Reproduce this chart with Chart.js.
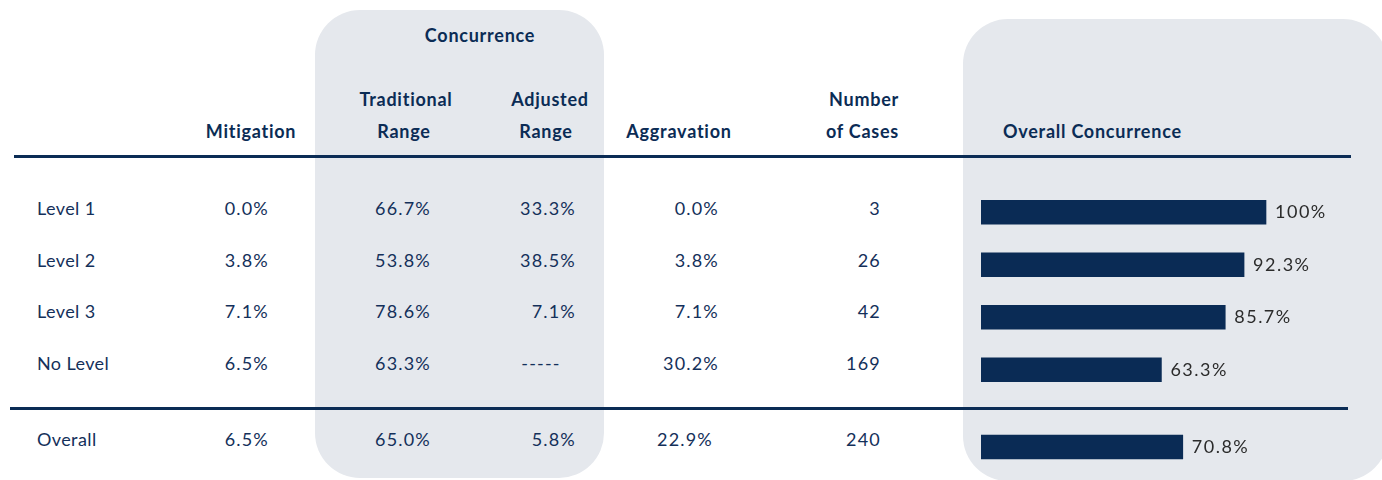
<!DOCTYPE html>
<html>
<head>
<meta charset="utf-8">
<script src="https://cdn.jsdelivr.net/npm/chart.js@4"></script>
<style>
  html, body { margin: 0; padding: 0; background: #fff; }
  #stage { position: relative; width: 1382px; height: 480px; overflow: hidden; font-family: Lato, sans-serif; color: #14305a; }
  .panel { position: absolute; background: #e5e8ed; border-radius: 45px; }
  .rule { position: absolute; height: 3px; background: #0b2c55; }
  .t { position: absolute; white-space: nowrap; line-height: 1; }
  .hd { font-weight: 700; font-size: 18px; letter-spacing: 0.75px; color: #0b2c55; }
  .bd { font-size: 18px; letter-spacing: 0.4px; }
  .num { font-size: 18px; letter-spacing: 1.2px; }
  .box { position: absolute; }
</style>
</head>
<body>
<div id="stage">
  <div class="panel" style="left:315px;top:10px;width:289px;height:468px;"></div>
  <div class="panel" style="left:963px;top:19px;width:425px;height:462px;"></div>
  <div class="rule" style="left:14px;top:155px;width:1337px;"></div>
  <div class="rule" style="left:10px;top:407px;width:1338px;"></div>
  <div class="box" style="left:981px;top:186px;width:399px;height:210px;"><canvas id="levelsChart"></canvas></div>
  <div class="box" style="left:981px;top:421px;width:399px;height:52px;"><canvas id="overallChart"></canvas></div>
</div>
<script>
const rowLabels = ['Level 1', 'Level 2', 'Level 3', 'No Level', 'Overall'];
const mitigation = [0.0, 3.8, 7.1, 6.5, 6.5];
const traditionalRange = [66.7, 53.8, 78.6, 63.3, 65.0];
const adjustedRange = [33.3, 38.5, 7.1, null, 5.8];
const aggravation = [0.0, 3.8, 7.1, 30.2, 22.9];
const numberOfCases = [3, 26, 42, 169, 240];
const overallConcurrence = [100, 92.3, 85.7, 63.3, 70.8];

const stage = document.getElementById('stage');

function put(text, x, y, align, cls) {
    const el = document.createElement('div');
    el.className = 't ' + cls;
    el.textContent = text;
    el.style.left = x + 'px';
    el.style.top = y + 'px';
    const dx = align === 'right' ? '-100%' : align === 'center' ? '-50%' : '0';
    el.style.transform = 'translate(' + dx + ', -50%)';
    stage.appendChild(el);
}

function pct(v) {
    if (v === null) return '-----';
    return v === 100 ? '100%' : v.toFixed(1) + '%';
}

// header
put('Concurrence', 480, 35, 'center', 'hd');
put('Traditional', 406, 99, 'center', 'hd');
put('Range', 404, 131, 'center', 'hd');
put('Adjusted', 550, 99, 'center', 'hd');
put('Range', 546, 131, 'center', 'hd');
put('Mitigation', 251, 131, 'center', 'hd');
put('Aggravation', 679, 131, 'center', 'hd');
put('Number', 899, 99, 'right', 'hd');
put('of Cases', 899, 131, 'right', 'hd');
put('Overall Concurrence', 1003, 131, 'left', 'hd');

// table body
rowLabels.forEach((lab, i) => {
    const y = i < 4 ? 208 + i * 51.5 : 439;
    put(lab, 37, y, 'left', 'bd');
    put(pct(mitigation[i]), 269, y, 'right', 'num');
    put(pct(traditionalRange[i]), 431, y, 'right', 'num');
    if (adjustedRange[i] === null) {
        put(pct(adjustedRange[i]), 541, y, 'center', 'num');
    } else {
        put(pct(adjustedRange[i]), 576, y, 'right', 'num');
    }
    put(pct(aggravation[i]), i < 4 ? 719 : 713, y, 'right', 'num');
    put(String(numberOfCases[i]), 881, y, 'right', 'num');
});

const barLabels = {
    id: 'barLabels',
    afterDatasetsDraw(chart) {
        const ctx = chart.ctx;
        const meta = chart.getDatasetMeta(0);
        ctx.save();
        ctx.font = '18px Lato, sans-serif';
        ctx.letterSpacing = '1.5px';
        ctx.fillStyle = '#2b2b2b';
        ctx.textBaseline = 'middle';
        ctx.textAlign = 'left';
        meta.data.forEach((bar, i) => {
            ctx.fillText(pct(chart.data.datasets[0].data[i]), bar.x + 9, bar.y);
        });
        ctx.restore();
    }
};

function renderBars(canvasId, labels, values) {
    const ctx = document.getElementById(canvasId).getContext('2d');
    new Chart(ctx, {
        type: 'bar',
        data: {
            labels: labels,
            datasets: [{
                data: values,
                backgroundColor: '#0a2b55',
                borderWidth: 0,
                barThickness: 24
            }]
        },
        options: {
            indexAxis: 'y',
            responsive: true,
            maintainAspectRatio: false,
            animation: false,
            layout: { padding: 0 },
            scales: {
                x: { display: false, min: 0, max: 140 },
                y: { display: false }
            },
            plugins: {
                legend: { display: false },
                tooltip: { enabled: false }
            }
        },
        plugins: [barLabels]
    });
}

renderBars('levelsChart', rowLabels.slice(0, 4), overallConcurrence.slice(0, 4));
renderBars('overallChart', rowLabels.slice(4), overallConcurrence.slice(4));
</script>
</body>
</html>
